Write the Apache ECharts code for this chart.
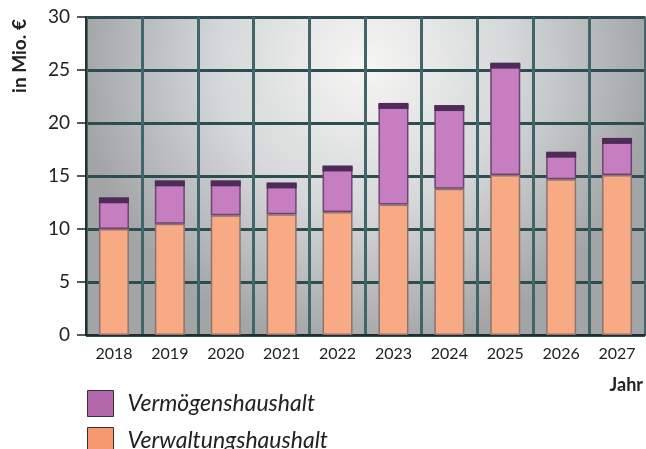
<!DOCTYPE html>
<html><head><meta charset="utf-8">
<script src="https://cdn.jsdelivr.net/npm/echarts@6/dist/echarts.min.js"></script>
<style>html,body{margin:0;padding:0;background:#fff}#c{width:646px;height:449px}</style>
</head><body><div id="c"></div>
<script>
const years = ['2018','2019','2020','2021','2022','2023','2024','2025','2026','2027'];
const verwaltung = [10.0, 10.5, 11.3, 11.4, 11.6, 12.3, 13.8, 15.1, 14.7, 15.1];
const vermoegen = [2.9, 4.0, 3.2, 2.9, 4.3, 9.5, 7.8, 10.5, 2.5, 3.4];
const yTicks = [0, 5, 10, 15, 20, 25, 30];

const FONT = 'Lato, "Open Sans", sans-serif';
const totals = years.map((y, i) => [i, verwaltung[i] + vermoegen[i]]);
const legendBase = {
  orient: 'vertical', left: 87, padding: 0,
  itemWidth: 26, itemHeight: 26,
  icon: 'rect',
  itemStyle: {borderColor: '#333', borderWidth: 1},
  textStyle: {fontFamily: FONT, fontStyle: 'italic', fontSize: 23, color: '#222', padding: [0,0,0,9]}
};
const chart = echarts.init(document.getElementById('c'));
chart.setOption({
  animation: false,
  backgroundColor: '#fff',
  grid: {
    left: 86, right: 1, top: 17, bottom: 114,
    show: true,
    borderColor: '#555', borderWidth: 1.5,
    backgroundColor: new echarts.graphic.RadialGradient(0.5, 0.15, 0.9, [
      {offset: 0, color: '#f6f6f4'},
      {offset: 0.5, color: '#d6d8d9'},
      {offset: 1, color: '#a2a4a6'}
    ])
  },
  legend: [
    Object.assign({}, legendBase, {top: 390,
      data: [{name: 'Vermögenshaushalt', itemStyle: {color: '#b268aa'}}]}),
    Object.assign({}, legendBase, {top: 427,
      data: [{name: 'Verwaltungshaushalt', itemStyle: {color: '#f59a6e'}}]})
  ],
  xAxis: {
    type: 'category', data: years,
    axisLine: {lineStyle: {color: '#222', width: 1.5}},
    axisTick: {show: false},
    axisLabel: {fontFamily: FONT, fontSize: 16, color: '#222', margin: 11},
    splitLine: {show: true, lineStyle: {color: '#40666a', width: 3}}
  },
  yAxis: {
    type: 'value', min: 0, max: 30, interval: 5,
    axisLine: {show: true, lineStyle: {color: '#222', width: 1.5}},
    axisTick: {show: true, length: 9, lineStyle: {color: '#222', width: 1.5}},
    axisLabel: {fontFamily: FONT, fontSize: 19, color: '#222', margin: 16,
      formatter: v => yTicks.includes(v) ? String(v) : ''},
    splitLine: {show: true, lineStyle: {color: '#2c4e52', width: 3}}
  },
  graphic: [
    {type: 'text', x: 20, y: 56, rotation: Math.PI/2,
      style: {text: 'in Mio. €', font: 'bold 19px ' + FONT, fill: '#222', textAlign: 'center', textVerticalAlign: 'middle'}},
    {type: 'text', x: 643, y: 385,
      style: {text: 'Jahr', font: 'bold 18px ' + FONT, fill: '#222', textAlign: 'right', textVerticalAlign: 'middle'}}
  ],
  series: [
    {
      name: 'Verwaltungshaushalt', type: 'bar', stack: 't', data: verwaltung,
      barWidth: 30,
      itemStyle: {color: '#f8aa84', borderColor: '#8d7470', borderWidth: 1.5},
      emphasis: {disabled: true}
    },
    {
      name: 'Vermögenshaushalt', type: 'bar', stack: 't', data: vermoegen,
      barWidth: 30,
      itemStyle: {color: '#c67ec0', borderColor: '#6e4472', borderWidth: 1.5},
      emphasis: {disabled: true}
    },
    {
      type: 'custom', data: totals, silent: true, z: 3,
      renderItem: function (params, api) {
        const p = api.coord([api.value(0), api.value(1)]);
        return {type: 'rect', shape: {x: p[0] - 15, y: p[1] - 1, width: 30, height: 6},
          style: {fill: '#4f2b57'}};
      }
    }
  ]
});
</script></body></html>
